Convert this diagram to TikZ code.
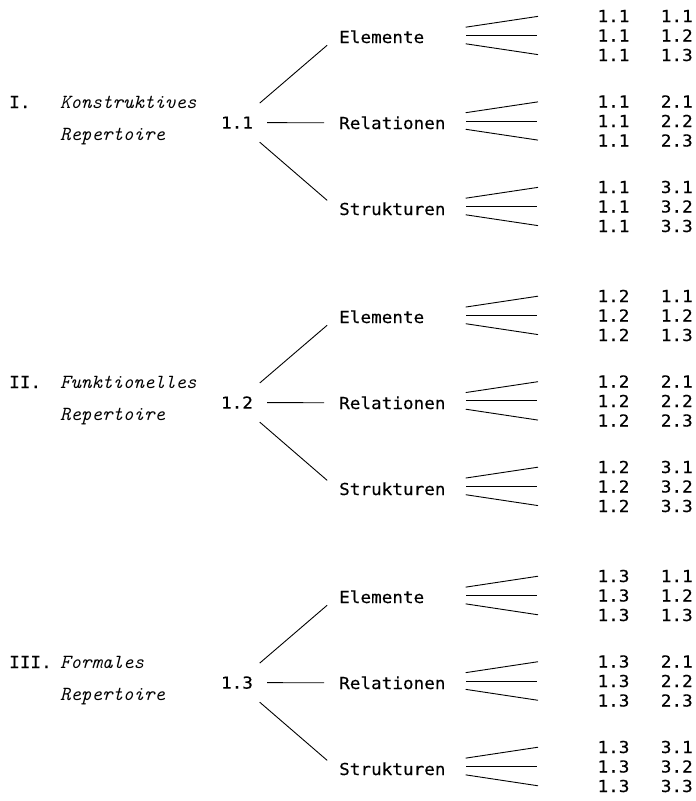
\documentclass[tikz,border=0pt]{standalone}
\usepackage{fontspec}
\newfontfamily\typefont[FakeStretch=1.07,FakeBold=0.3]{DejaVu Sans Mono}
\usetikzlibrary{positioning}
\tikzset{
  mono/.style={font=\typefont\fontsize{16.5}{20}\selectfont,inner sep=2pt},
  reptitle/.style={font=\ttfamily\itshape\fontsize{20}{24}\selectfont,inner sep=2pt},
  stageline/.style={line width=0.9pt,shorten <=30pt,shorten >=13pt},
  fanline/.style={line width=0.9pt,shorten <=56pt,shorten >=58pt},
}
\newcommand{\repgroup}[5]{%
\begin{scope}[shift={(0,#2)}]
% numeral and title
\node[mono,anchor=base west] (#1-num) at (7,108) {#3};
\node[reptitle,anchor=base west] (#1-title) at (58,108) {#4};
\node[reptitle,anchor=base west] (#1-rep) at (58,140) {Repertoire};
% stage number
\node[mono,anchor=base] (#1-stage) at (237,128.6) {#5};
% categories and their fans
\foreach \cat/\catname/\cn [count=\c from 0] in {e/Elemente/1,r/Relationen/2,s/Strukturen/3} {
  \node[mono,anchor=base west] (#1-\cat) at (337,43+86*\c) {\catname};
  \draw[stageline] (#1-stage.center) -- (#1-\cat.west);
  \foreach \row [count=\r from 0] in {1,2,3} {
    \node[mono,anchor=base] (#1-\cat-\row) at (613.5,22+85.5*\c+19.5*\r) {#5};
    \node[mono,base right=27pt of #1-\cat-\row] (#1-\cat-\row-b) {\cn.\row};
  }
  \coordinate (#1-\cat-fan) at ([xshift=-185pt]#1-\cat-2.west);
  \foreach \row/\anc in {1/north west,2/west,3/south west}
    \draw[fanline] (#1-\cat-fan) -- (#1-\cat-\row.\anc);
}
\end{scope}
}

\begin{document}
\begin{tikzpicture}[x=1pt,y=-1pt]
\useasboundingbox (0,0) rectangle (696,801);
\repgroup{g1}{0}{I.}{Konstruktives}{1.1}
\repgroup{g2}{280}{II.}{Funktionelles}{1.2}
\repgroup{g3}{560}{III.}{Formales}{1.3}
\end{tikzpicture}
\end{document}
